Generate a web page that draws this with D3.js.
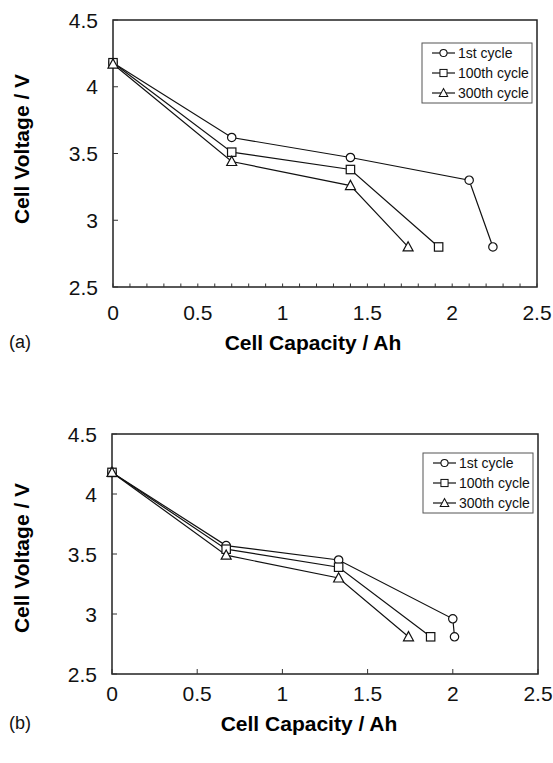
<!DOCTYPE html>
<html>
<head>
<meta charset="utf-8">
<script src="https://cdn.jsdelivr.net/npm/d3@7"></script>
<style>
  body { margin: 0; background: #fff; }
  svg { font-family: "Liberation Sans", Arial, sans-serif; }
</style>
</head>
<body>
<svg id="chart" width="553" height="763"></svg>
<script>
// series names and x/y values
const seriesNames = ["1st cycle", "100th cycle", "300th cycle"]
const markers = ["circle", "square", "triangle"]

// panel (a)
const capA1 = [0, 0.70, 1.40, 2.10, 2.24]
const voltA1 = [4.18, 3.62, 3.47, 3.30, 2.80]
const capA100 = [0, 0.70, 1.40, 1.92]
const voltA100 = [4.18, 3.51, 3.38, 2.80]
const capA300 = [0, 0.70, 1.40, 1.74]
const voltA300 = [4.17, 3.44, 3.26, 2.80]

// panel (b)
const capB1 = [0, 0.67, 1.33, 2.00, 2.01]
const voltB1 = [4.18, 3.57, 3.45, 2.96, 2.81]
const capB100 = [0, 0.67, 1.33, 1.87]
const voltB100 = [4.18, 3.54, 3.39, 2.81]
const capB300 = [0, 0.67, 1.33, 1.74]
const voltB300 = [4.18, 3.49, 3.30, 2.81]

const xTicks = [0, 0.5, 1, 1.5, 2, 2.5]
const yTicks = [2.5, 3, 3.5, 4, 4.5]

const svg = d3.select("#chart")

function zip(xs, ys) {
  return xs.map((x, i) => ({ x: x, y: ys[i] }))
}

function drawMarker(sel, type) {
  if (type === "circle") {
    sel.append("circle").attr("r", 4.2)
  } else if (type === "square") {
    sel.append("rect").attr("x", -4.2).attr("y", -4.2).attr("width", 8.4).attr("height", 8.4)
  } else {
    sel.append("path").attr("d", "M0,-5.2L5,4L-5,4Z")
  }
  sel.selectAll("*").attr("fill", "#fff").attr("stroke", "#111").attr("stroke-width", 1.2)
}

function drawPanel(opt) {
  const x = d3.scaleLinear().domain([0, 2.5]).range([opt.left, opt.right])
  const y = d3.scaleLinear().domain([2.5, 4.5]).range([opt.bottom, opt.top])
  const g = svg.append("g")

  // frame
  g.append("rect")
    .attr("x", opt.left).attr("y", opt.top)
    .attr("width", opt.right - opt.left).attr("height", opt.bottom - opt.top)
    .attr("fill", "none").attr("stroke", "#222").attr("stroke-width", 1.5)

  // x ticks pointing inwards (panel a has minor ticks every 0.1)
  const xt = opt.minor ? d3.range(0, 2.51, 0.1) : xTicks
  g.selectAll(".xt").data(xt).enter().append("line")
    .attr("x1", d => x(d)).attr("x2", d => x(d))
    .attr("y1", opt.bottom).attr("y2", opt.bottom - (opt.minor ? 3.5 : 5))
    .attr("stroke", "#333").attr("stroke-width", 1)

  g.selectAll(".yt").data(yTicks).enter().append("line")
    .attr("x1", opt.left).attr("x2", opt.left + 5)
    .attr("y1", d => y(d)).attr("y2", d => y(d))
    .attr("stroke", "#333").attr("stroke-width", 1)

  // tick labels
  g.selectAll(".xl").data(xTicks).enter().append("text")
    .attr("x", d => x(d)).attr("y", opt.bottom + opt.tickDy)
    .attr("text-anchor", "middle").attr("font-size", "21px").attr("fill", "#111")
    .text(d => d)

  g.selectAll(".yl").data(yTicks).enter().append("text")
    .attr("x", opt.left - 15).attr("y", d => y(d) + 7.5)
    .attr("text-anchor", "end").attr("font-size", "21px").attr("fill", "#111")
    .text(d => d)

  // axis titles
  g.append("text")
    .attr("x", opt.titleX).attr("y", opt.bottom + opt.titleDy)
    .attr("text-anchor", "middle").attr("font-size", "21px").attr("font-weight", "bold")
    .text("Cell Capacity / Ah")

  g.append("text")
    .attr("transform", `translate(29, ${opt.yTitleY}) rotate(-90)`)
    .attr("text-anchor", "middle").attr("font-size", "21px").attr("font-weight", "bold")
    .text("Cell Voltage / V")

  g.append("text")
    .attr("x", 9).attr("y", opt.bottom + opt.titleDy - 2)
    .attr("font-size", "18px").attr("fill", "#111")
    .text(opt.label)

  // series
  const line = d3.line().x(d => x(d.x)).y(d => y(d.y))
  opt.series.forEach((s, i) => {
    g.append("path").datum(s)
      .attr("d", line).attr("fill", "none")
      .attr("stroke", "#111").attr("stroke-width", 1.2)
  })
  opt.series.forEach((s, i) => {
    g.selectAll(".m" + i).data(s).enter().append("g")
      .attr("transform", d => `translate(${x(d.x)}, ${y(d.y)})`)
      .each(function () { drawMarker(d3.select(this), markers[i]) })
  })

  // legend
  const lg = g.append("g").attr("transform", `translate(${opt.legX}, ${opt.legY})`)
  lg.append("rect").attr("width", 110).attr("height", 60)
    .attr("fill", "#fff").attr("stroke", "#555").attr("stroke-width", 1)
  seriesNames.forEach((name, i) => {
    const row = lg.append("g").attr("transform", `translate(0, ${10 + i * 20})`)
    row.append("line").attr("x1", 10).attr("x2", 33)
      .attr("stroke", "#111").attr("stroke-width", 1.2)
    const m = row.append("g").attr("transform", "translate(21.5, 0)")
    drawMarker(m, markers[i])
    m.selectAll("*").attr("transform", "scale(0.85)")
    row.append("text").attr("x", 36).attr("y", 5)
      .attr("font-size", "14px").attr("fill", "#111").text(name)
  })
}

drawPanel({
  left: 113, right: 537, top: 20, bottom: 287, minor: true, label: "(a)",
  tickDy: 33, titleDy: 63, titleX: 313, yTitleY: 149,
  legX: 422, legY: 43,
  series: [zip(capA1, voltA1), zip(capA100, voltA100), zip(capA300, voltA300)]
})

drawPanel({
  left: 112, right: 538, top: 434, bottom: 674, minor: false, label: "(b)",
  tickDy: 27, titleDy: 57, titleX: 309, yTitleY: 558,
  legX: 423, legY: 453,
  series: [zip(capB1, voltB1), zip(capB100, voltB100), zip(capB300, voltB300)]
})
</script>
</body>
</html>
